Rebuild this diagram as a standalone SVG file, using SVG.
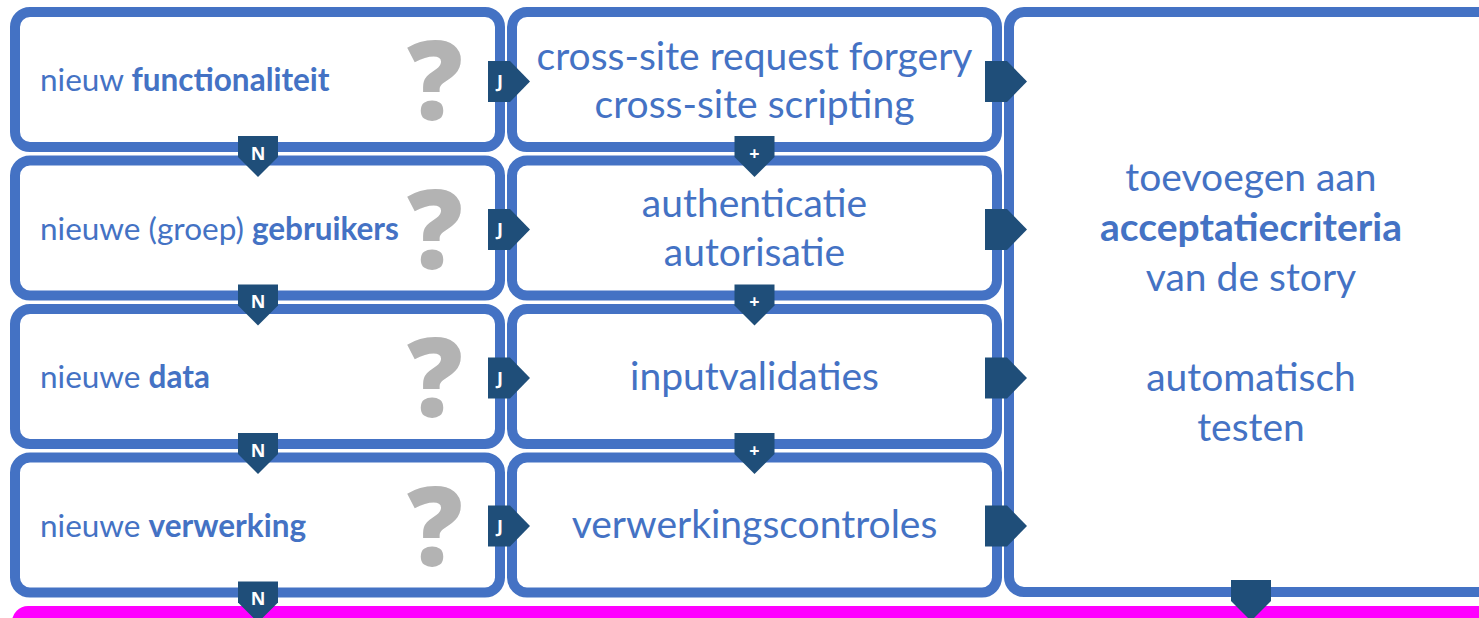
<svg xmlns="http://www.w3.org/2000/svg" xmlns:xlink="http://www.w3.org/1999/xlink" width="1479" height="618" viewBox="0 0 1479 618">
<style>
.box{fill:#fff;stroke:#4472C4;stroke-width:10}
.t{font-family:Lato,"Open Sans","Liberation Sans",sans-serif;fill:#4472C4}
.l{font-size:31.5px}
.m{font-size:39px;text-anchor:middle}
.b{font-weight:700}
.q{font-family:"Open Sans","Liberation Sans",sans-serif;font-size:110px;font-weight:800;fill:#B3B3B3;text-anchor:middle}
.mk{fill:#1F4E79}
.mt{font-family:"Open Sans","Liberation Sans",sans-serif;font-size:18px;font-weight:700;fill:#fff;text-anchor:middle}
</style>
<defs>
<path id="pr" d="M0,-20.5 H22 L42,0 L22,20.5 H0 Z"/>
<path id="pd" d="M-20,0 H20 V21 L0,41 L-20,21 Z"/>
</defs>
<rect width="1479" height="618" fill="#fff"/>
<g id="bar">
<rect x="12" y="606" width="1500" height="40" rx="16" fill="#FF00FF"/>
</g>
<g id="q1"><rect class="box" x="15" y="12" width="485" height="135" rx="15"/><text class="t l" x="40" y="91">nieuw <tspan class="b">functionaliteit</tspan></text><text class="q" x="435" y="120">?</text></g>
<g id="q2"><rect class="box" x="15" y="160.5" width="485" height="135" rx="15"/><text class="t l" x="40" y="240">nieuwe (groep) <tspan class="b">gebruikers</tspan></text><text class="q" x="435" y="268.5">?</text></g>
<g id="q3"><rect class="box" x="15" y="309" width="485" height="135" rx="15"/><text class="t l" x="40" y="388">nieuwe <tspan class="b">data</tspan></text><text class="q" x="435" y="417">?</text></g>
<g id="q4"><rect class="box" x="15" y="457.5" width="485" height="135" rx="15"/><text class="t l" x="40" y="537">nieuwe <tspan class="b">verwerking</tspan></text><text class="q" x="435" y="565.5">?</text></g>
<g id="a1"><rect class="box" x="512" y="12" width="485" height="135" rx="15"/><text class="t m" x="754.5" y="70">cross-site request forgery</text><text class="t m" x="754.5" y="118">cross-site scripting</text></g>
<g id="a2"><rect class="box" x="512" y="160.5" width="485" height="135" rx="15"/><text class="t m" x="754.5" y="217">authenticatie</text><text class="t m" x="754.5" y="266">autorisatie</text></g>
<g id="a3"><rect class="box" x="512" y="309" width="485" height="135" rx="15"/><text class="t m" x="754.5" y="390">inputvalidaties</text></g>
<g id="a4"><rect class="box" x="512" y="457.5" width="485" height="135" rx="15"/><text class="t m" x="754.5" y="538">verwerkingscontroles</text></g>
<g id="result"><rect class="box" x="1009" y="12" width="485" height="580" rx="15"/>
<text class="t m" x="1251" y="191">toevoegen aan</text>
<text class="t m b" x="1251" y="241">acceptatiecriteria</text>
<text class="t m" x="1251" y="291">van de story</text>
<text class="t m" x="1251" y="391">automatisch</text>
<text class="t m" x="1251" y="441">testen</text>
</g>
<g id="connectors">
<use class="mk" xlink:href="#pr" x="488" y="81.5"/><text class="mt" x="500" y="88">J</text>
<use class="mk" xlink:href="#pr" x="488" y="229.5"/><text class="mt" x="500" y="236">J</text>
<use class="mk" xlink:href="#pr" x="488" y="378"/><text class="mt" x="500" y="384.5">J</text>
<use class="mk" xlink:href="#pr" x="488" y="526"/><text class="mt" x="500" y="532.5">J</text>
<use class="mk" xlink:href="#pr" x="985" y="81.5"/>
<use class="mk" xlink:href="#pr" x="985" y="229.5"/>
<use class="mk" xlink:href="#pr" x="985" y="378"/>
<use class="mk" xlink:href="#pr" x="985" y="526"/>
<use class="mk" xlink:href="#pd" x="258" y="136"/><text class="mt" x="258" y="159.5">N</text>
<use class="mk" xlink:href="#pd" x="258" y="284.5"/><text class="mt" x="258" y="308">N</text>
<use class="mk" xlink:href="#pd" x="258" y="433"/><text class="mt" x="258" y="456.5">N</text>
<use class="mk" xlink:href="#pd" x="258" y="581.5"/><text class="mt" x="258" y="605">N</text>
<use class="mk" xlink:href="#pd" x="754.5" y="136"/><text class="mt" x="754.5" y="159.5">+</text>
<use class="mk" xlink:href="#pd" x="754.5" y="284.5"/><text class="mt" x="754.5" y="308">+</text>
<use class="mk" xlink:href="#pd" x="754.5" y="433"/><text class="mt" x="754.5" y="456.5">+</text>
<use class="mk" xlink:href="#pd" x="1251" y="580"/>
</g>
</svg>
